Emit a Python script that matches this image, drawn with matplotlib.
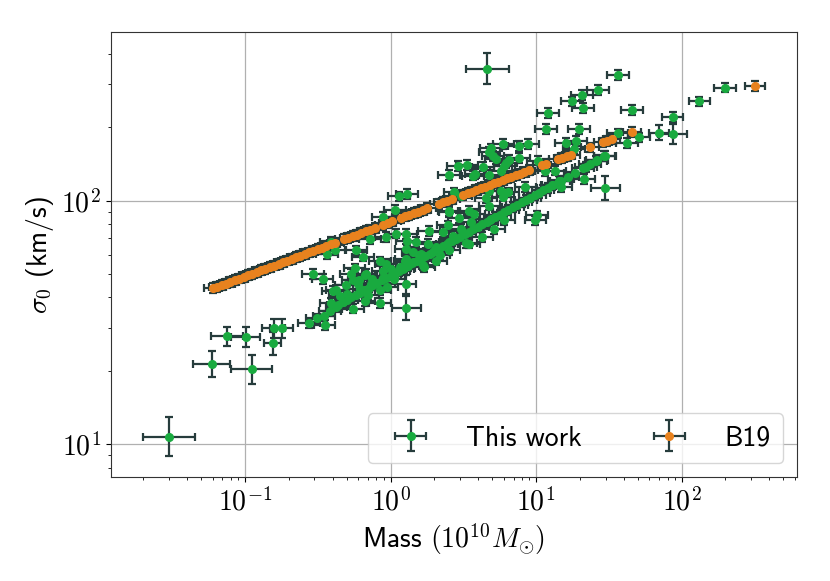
import numpy as np
import matplotlib
matplotlib.use("Agg")
import matplotlib.pyplot as plt
from matplotlib.ticker import FuncFormatter
from matplotlib.legend_handler import HandlerErrorbar
from matplotlib.container import ErrorbarContainer

plt.rcParams['mathtext.fontset'] = 'cm'
plt.rcParams['font.family'] = ['cmss10', 'DejaVu Sans']
plt.rcParams['axes.unicode_minus'] = False

# ---------------- data ----------------
# "This work": tight relation
green_line_mass = [0.437, 0.468, 0.501, 0.537, 0.575, 0.617, 0.661, 0.708, 0.759, 0.813,
                   0.871, 0.933, 1.000, 1.072, 1.148, 1.230, 1.318, 1.413, 1.514, 1.622,
                   1.738, 1.862, 1.995, 2.138, 2.291, 2.455, 2.630, 2.818, 3.020, 3.236,
                   3.467, 3.715, 3.981, 4.266, 4.571, 4.898, 5.248, 5.623, 6.026, 6.457,
                   6.918, 7.413, 7.943, 8.511, 9.120, 9.772, 10.47, 11.22, 12.02, 12.88,
                   14.79, 16.60, 18.62, 20.89, 23.44, 26.30, 29.51]
green_line_sigma = [37.3, 38.2, 39.1, 40.0, 40.9, 41.9, 42.9, 43.9, 44.9, 45.9,
                    47.0, 48.1, 49.2, 50.4, 51.5, 52.7, 54.0, 55.2, 56.5, 57.8,
                    59.2, 60.5, 61.9, 63.4, 64.9, 66.4, 67.9, 69.5, 71.1, 72.8,
                    74.5, 76.2, 78.0, 79.8, 81.7, 83.6, 85.5, 87.5, 89.5, 91.6,
                    93.8, 95.9, 98.2, 100.5, 102.8, 105.2, 107.6, 110.2, 112.7, 115.3,
                    120.7, 125.4, 130.3, 135.5, 140.7, 146.2, 152.0]

# "This work": scattered points (typical errors)
green_mass = [0.274, 0.31, 0.352, 0.347, 36.6, 26.5, 20.7, 17.6, 21.1, 12.0,
              45.9, 11.7, 19.8, 86.6, 132.5, 198.0, 51.2, 42.1, 36.3, 18.8,
              18.3, 29.9, 25.8, 22.0, 21.5, 14.8, 13.4, 11.6, 14.4, 13.0,
              10.3, 16.1, 9.9, 10.1, 5.97, 7.68, 8.76, 4.91, 4.78, 5.04,
              5.31, 7.68, 6.56, 6.22, 6.06, 3.34, 4.30, 2.9, 2.51, 3.67,
              3.83, 4.78, 5.75, 2.75, 8.45, 5.75, 6.38, 4.78, 1.14, 1.30,
              1.08, 4.54, 5.9, 4.78, 2.51, 2.94, 3.48, 3.77, 2.47, 1.83,
              2.29, 1.80, 4.83, 6.06, 5.17, 3.31, 4.28, 1.28, 1.42, 1.58,
              1.95, 1.25, 1.67, 1.21, 0.885, 0.718, 0.935, 1.28, 1.29, 1.5,
              1.09, 0.58, 0.39, 0.364, 0.418, 0.645, 0.841, 0.292, 0.341, 0.401,
              0.425, 0.39, 0.425, 0.386, 0.551, 0.497, 0.566, 0.537, 0.551, 0.674,
              0.604, 0.663, 0.85, 0.885, 0.841, 0.737, 1.065, 1.153, 1.28, 1.42,
              0.663, 0.885, 1.05, 0.593, 2.17, 2.54, 2.68, 3.06, 3.48, 3.58,
              3.06, 1.62, 2.06, 1.71, 2.06, 2.54, 2.54, 0.45, 0.50, 0.47,
              0.62, 0.70, 0.75, 0.95, 1.0, 0.93]
green_sigma = [31.3, 32.8, 30.8, 33.5, 327.0, 284.0, 271.0, 255.0, 239.0, 228.0,
               235.0, 197.0, 197.0, 221.0, 255.0, 291.0, 181.5, 172.0, 188.6, 176.0,
               163.0, 152.8, 145.9, 137.0, 122.7, 113.4, 132.8, 131.9, 120.7, 116.3,
               145.9, 173.0, 82.8, 86.9, 170.6, 168.0, 170.6, 163.7, 157.7, 152.8,
               148.2, 149.6, 146.9, 142.3, 139.0, 140.0, 137.8, 139.0, 127.4, 126.6,
               128.6, 127.4, 132.8, 108.0, 113.4, 109.2, 108.0, 109.9, 104.0, 106.5,
               91.8, 102.6, 103.8, 95.4, 90.4, 84.9, 90.4, 88.2, 79.0, 74.8,
               74.2, 66.6, 83.4, 82.8, 76.6, 66.9, 70.8, 63.4, 61.4, 59.5,
               61.4, 56.7, 54.2, 52.5, 85.4, 69.6, 70.8, 73.0, 68.5, 67.4,
               73.2, 62.4, 67.5, 60.1, 62.4, 58.9, 56.2, 50.1, 47.6, 42.4,
               42.8, 37.9, 36.5, 35.2, 36.0, 44.9, 52.6, 50.0, 47.0, 50.0,
               47.0, 38.6, 37.9, 51.3, 42.8, 45.6, 50.1, 53.2, 57.7, 55.9,
               49.4, 48.3, 47.5, 45.3, 59.5, 62.4, 71.8, 76.6, 66.6, 81.3,
               104.8, 60.3, 56.7, 53.1, 64.4, 67.4, 89.5, 40.5, 41.5, 38.5,
               43.5, 41.0, 47.5, 44.0, 52.5, 55.0]

# "This work": points with individual (larger) errors, errors in dex
green_odd_mass = [0.030, 0.059, 0.111, 0.075, 0.101, 0.155, 0.157, 0.179, 1.28, 1.27, 4.63, 29.9, 86.6, 70.2]
green_odd_sigma = [10.7, 21.3, 20.3, 27.7, 27.5, 25.9, 29.9, 29.9, 36.2, 45.3, 348.0, 112.7, 187.5, 190.0]
green_odd_xerr_dex = [0.18, 0.125, 0.14, 0.11, 0.10, 0.06, 0.08, 0.08, 0.10, 0.07, 0.15, 0.10, 0.10, 0.07]
green_odd_yerr_dex = [0.08, 0.053, 0.06, 0.04, 0.04, 0.048, 0.04, 0.04, 0.05, 0.04, 0.065, 0.05, 0.04, 0.03]
green_xerr_dex_typ = 0.075
green_yerr_dex_typ = 0.02

# B19
orange_mass = [0.0603, 0.0646, 0.0692, 0.0741, 0.0794, 0.0851, 0.0912, 0.0977, 0.105, 0.112,
               0.120, 0.129, 0.138, 0.148, 0.158, 0.170, 0.182, 0.195, 0.209, 0.224,
               0.240, 0.257, 0.275, 0.295, 0.316, 0.339, 0.363, 0.389, 0.417, 0.479,
               0.513, 0.550, 0.589, 0.631, 0.676, 0.724, 0.776, 0.891, 0.955, 1.023,
               1.175, 1.259, 1.349, 1.445, 1.549, 1.660, 1.778, 2.138, 2.291, 2.455,
               2.630, 3.162, 3.388, 3.631, 3.890, 4.169, 4.467, 4.786, 5.129, 5.495,
               5.888, 6.310, 6.761, 7.244, 7.762, 8.318, 8.913, 10.96, 11.75, 14.13,
               15.14, 16.22, 17.38, 23.44, 28.84, 30.90, 33.11, 45.71, 320.0]
orange_sigma = [43.6, 44.3, 45.0, 45.6, 46.4, 47.1, 47.8, 48.6, 49.3, 50.1,
                50.9, 51.7, 52.5, 53.3, 54.1, 55.0, 55.8, 56.7, 57.6, 58.5,
                59.4, 60.3, 61.2, 62.2, 63.1, 64.1, 65.1, 66.1, 67.2, 69.3,
                70.3, 71.4, 72.5, 73.7, 74.8, 76.0, 77.2, 79.6, 80.8, 82.1,
                84.6, 86.0, 87.3, 88.6, 90.0, 91.4, 92.9, 96.8, 98.3, 99.8,
                101.3, 105.6, 107.3, 108.9, 110.6, 112.3, 114.1, 115.8, 117.6, 119.5,
                121.3, 123.2, 125.2, 127.1, 129.1, 131.1, 133.2, 139.4, 141.6, 147.5,
                149.8, 152.1, 154.5, 165.2, 173.1, 175.8, 178.6, 191.8, 296.2]
orange_xerr_dex = 0.06
orange_yerr_dex = 0.02

x_ticks = [0.1, 1, 10, 100]
y_ticks = [10, 100]

# ---------------- helpers ----------------
def asym(vals, dex):
    v = np.asarray(vals, float)
    d = np.broadcast_to(np.asarray(dex, float), v.shape)
    f = 10 ** d
    return np.vstack([v - v / f, v * f - v])

gm = np.concatenate([green_line_mass, green_mass, green_odd_mass])
gs = np.concatenate([green_line_sigma, green_sigma, green_odd_sigma])
n_typ = len(green_line_mass) + len(green_mass)
gxd = np.concatenate([np.full(n_typ, green_xerr_dex_typ), green_odd_xerr_dex])
gyd = np.concatenate([np.full(n_typ, green_yerr_dex_typ), green_odd_yerr_dex])

om = np.asarray(orange_mass)
osg = np.asarray(orange_sigma)
oxd = np.full(len(om), orange_xerr_dex)
oyd = np.full(len(om), orange_yerr_dex)
oxd[-1] = 0.07
oyd[-1] = 0.02

GREEN = '#19aa3f'
ORANGE = '#e8821e'
ECOL = '#263c3c'

fig = plt.figure(figsize=(8.3, 5.81), dpi=100)
ax = fig.add_axes([0.1337, 0.179, 0.8265, 0.766])

ekw = dict(fmt='o', ms=5.5, ecolor=ECOL, elinewidth=1.6, capsize=3, capthick=1.6)
ax.errorbar(gm, gs, xerr=asym(gm, gxd), yerr=asym(gs, gyd), color=GREEN,
            label='This work', **ekw)
ax.errorbar(om, osg, xerr=asym(om, oxd), yerr=asym(osg, oyd), color=ORANGE,
            label='B19', **ekw)

ax.set_xscale('log')
ax.set_yscale('log')
ax.set_xlim(0.012, 620)
ax.set_ylim(7.33, 492)
ax.set_xticks(x_ticks)
ax.set_yticks(y_ticks)
fmt = FuncFormatter(lambda v, p: r'$10^{%d}$' % int(round(np.log10(v))))
ax.xaxis.set_major_formatter(fmt)
ax.yaxis.set_major_formatter(fmt)
ax.tick_params(axis='both', which='major', labelsize=20)
ax.grid(True, which='major', color='#b0b0b0', linewidth=0.9)
ax.set_axisbelow(True)
for s in ax.spines.values():
    s.set_color('#333333')

ax.set_xlabel(r'Mass $(10^{10}M_{\odot})$', fontsize=20)
ax.set_ylabel(r'$\sigma_0$ (km/s)', fontsize=20)

ax.legend(loc='lower right', ncol=2, fontsize=20, handlelength=2.22,
          handletextpad=0.87, columnspacing=2.05, borderpad=0.45,
          handler_map={ErrorbarContainer: HandlerErrorbar(xerr_size=0.56)})

fig.savefig('out.png', dpi=100)
